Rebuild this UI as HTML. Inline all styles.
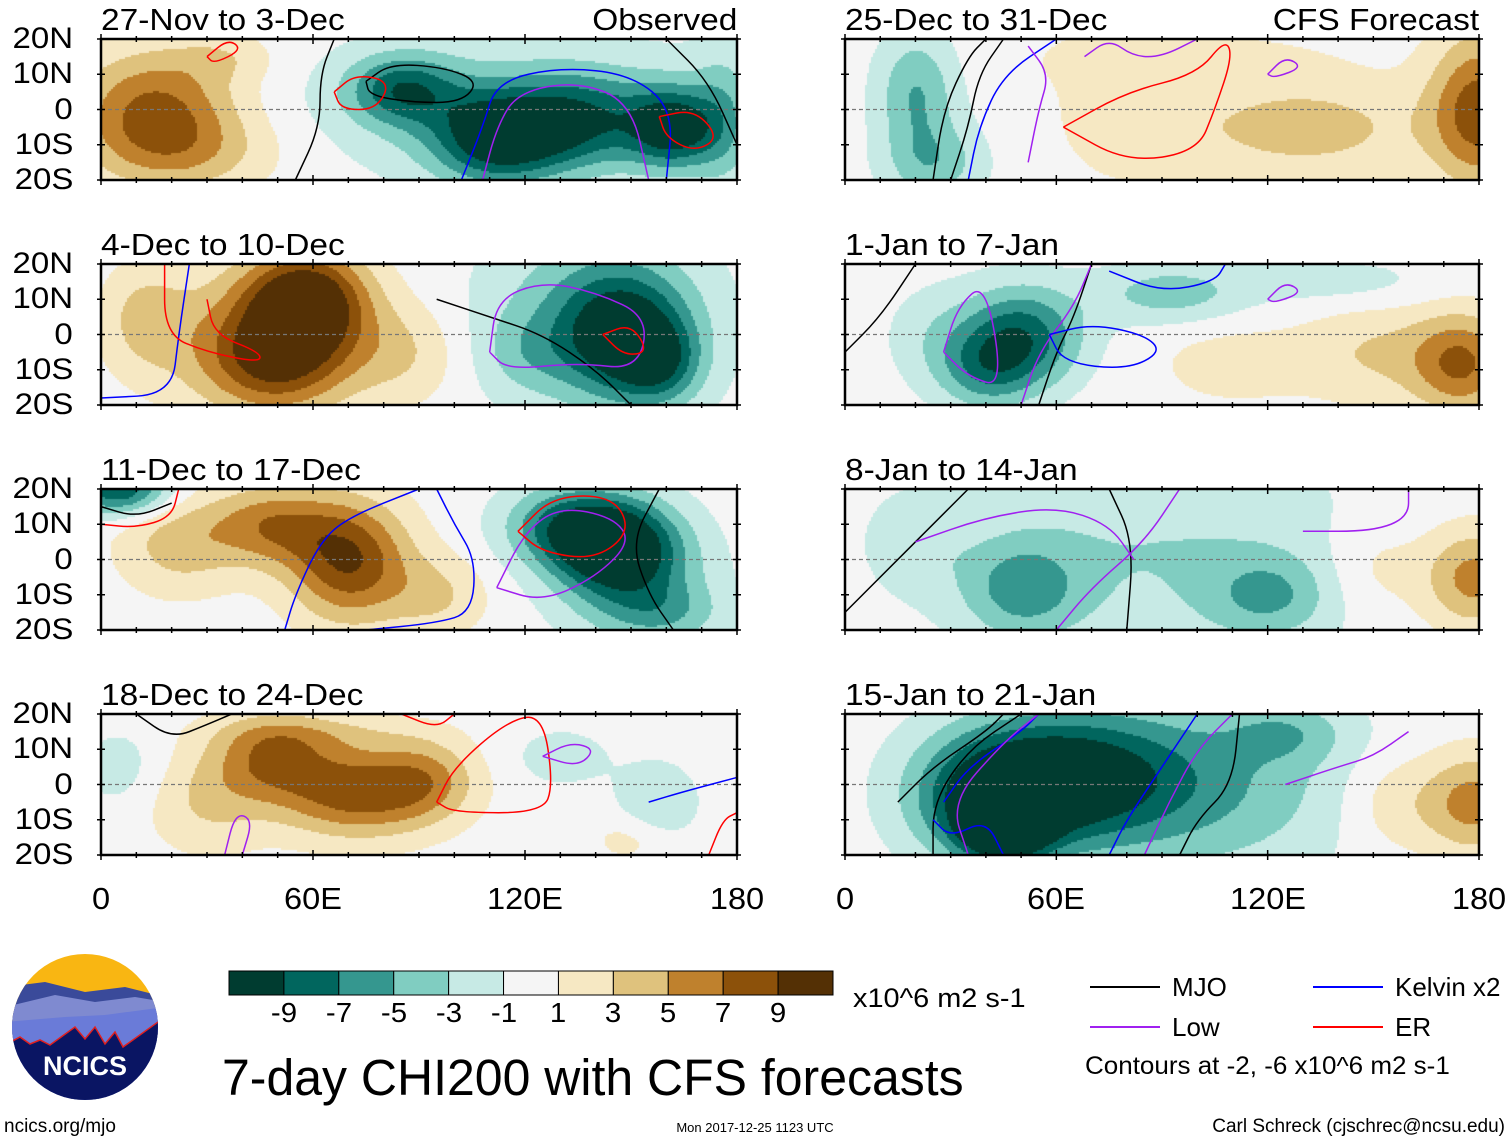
<!DOCTYPE html>
<html><head><meta charset="utf-8">
<style>
body{margin:0;background:#fff;width:1510px;height:1142px;overflow:hidden;position:relative;font-family:"Liberation Sans",sans-serif;}
.t{position:absolute;color:#000;white-space:nowrap;line-height:1;}
canvas{position:absolute;}
svg{position:absolute;left:0;top:0;}
</style></head><body>
<div id="root"></div>
<svg id="ov" width="1510" height="1142"></svg>
<script>
// color scale (BrBG), level boundaries
const levels=[-9,-7,-5,-3,-1,1,3,5,7,9];
const colors=['#003c30','#01665e','#35978f','#80cdc1','#c7eae5','#f5f5f5','#f6e8c3','#dfc27d','#bf812d','#8c510a','#543005'];
const panelTitles=['27-Nov to 3-Dec','4-Dec to 10-Dec','11-Dec to 17-Dec','18-Dec to 24-Dec','25-Dec to 31-Dec','1-Jan to 7-Jan','8-Jan to 14-Jan','15-Jan to 21-Jan'];
const latTicks=['20N','10N','0','10S','20S'];
const lonTicks=['0','60E','120E','180'];
// anomaly blobs per panel: [lon, lat, amplitude, sigmaLon, sigmaLat]
const blobs0=[[15,0,7.5,16,12],[25,-12,3,18,8],[35,15,2,10,5],[85,6,-7,11,7],[112,-8,-9,13,9],[135,-3,-6,14,9],[162,-5,-9,9,8],[120,0,-3.5,40,14],[176,-2,-3,6,15]];
const blobs1=[[58,10,11,12,10],[50,-8,7,14,10],[40,0,4,20,14],[12,5,3,8,10],[85,-5,3,12,10],[148,0,-8,12,12],[140,5,-5,22,18],[158,-8,-5,8,8],[120,-5,-2,10,8]];
const blobs2=[[70,0,9,12,12],[48,10,6,12,8],[22,5,4,12,10],[95,-10,3,10,8],[5,20,-9,10,5],[145,5,-10,12,9],[130,10,-6,12,8],[150,-5,-5,15,12],[160,-15,-3,12,6]];
const blobs3=[[72,-2,8,16,9],[48,8,6,12,8],[92,2,4,10,8],[30,-5,3,12,10],[60,15,2,20,4],[130,8,-2,10,6],[157,-5,-3,8,8],[5,5,-2,8,8],[150,-15,2,8,5]];
const blobs4=[[180,0,8,10,15],[130,-5,4,25,10],[80,0,2,15,15],[20,5,-5,8,12],[25,-15,-4,10,8],[95,15,1.5,30,6]];
const blobs5=[[50,0,-8,12,10],[40,-10,-5,10,8],[92,12,-4,15,6],[140,15,-2,20,5],[175,-8,7,10,10],[150,-5,3,15,10],[110,-8,2,15,8],[25,0,-2,10,10]];
const blobs6=[[50,-8,-5,12,10],[90,2,-3,40,22],[120,-10,-4,12,8],[20,5,-2,10,10],[178,-5,6,10,10],[150,-2,2,10,10]];
const blobs7=[[60,2,-10,22,13],[45,-12,-11,8,6],[40,-5,-7,15,12],[100,0,-5,30,18],[125,15,-3,12,6],[178,-5,6,10,10],[155,-5,2.5,10,10]];
const allBlobs=[blobs0,blobs1,blobs2,blobs3,blobs4,blobs5,blobs6,blobs7];
// contour lines per panel: [color, [[lon,lat],...]]
const lines0=[['#000',[[55,-20],[62,-5],[62,10],[66,20]]],['#000',[[75,8],[82,13],[97,12],[107,8],[102,2],[88,2],[76,4],[75,8]]],['#000',[[160,20],[172,8],[180,-10]]],['#00f',[[102,-20],[108,-5],[112,8],[130,12],[150,10],[162,0],[160,-20]]],['#a020f0',[[108,-20],[112,-5],[118,5],[135,8],[150,2],[155,-20]]],['#f00',[[66,5],[72,10],[82,8],[78,0],[68,0],[66,5]]],['#f00',[[158,-2],[168,0],[175,-8],[168,-12],[160,-8],[158,-2]]],['#f00',[[30,15],[36,20],[40,17],[32,13],[30,15]]]];
const lines1=[['#00f',[[0,-18],[20,-17],[22,0],[25,20]]],['#f00',[[18,20],[18,0],[30,-5],[45,-8],[45,-5],[32,0],[30,10]]],['#000',[[95,10],[110,5],[125,0],[140,-10],[150,-20]]],['#a020f0',[[110,-5],[112,10],[125,15],[140,12],[155,5],[152,-10],[135,-8],[115,-10],[110,-5]]],['#f00',[[142,0],[150,3],[155,-5],[148,-6],[142,0]]]];
const lines2=[['#f00',[[0,10],[10,9],[20,12],[22,20]]],['#000',[[0,15],[10,12],[20,16]]],['#00f',[[52,-20],[55,-10],[62,5],[70,12],[90,20]]],['#00f',[[75,-20],[95,-18],[105,-15],[106,0],[100,10],[95,20]]],['#a020f0',[[112,-8],[120,8],[130,15],[145,12],[150,5],[140,-5],[125,-12],[112,-8]]],['#f00',[[118,8],[128,18],[145,18],[150,8],[140,0],[125,2],[118,8]]],['#000',[[158,20],[150,5],[155,-10],[162,-20]]]];
const lines3=[['#000',[[10,20],[20,13],[30,17],[37,20]]],['#f00',[[85,20],[95,16],[100,20]]],['#f00',[[95,-5],[100,5],[115,18],[125,20],[128,0],[125,-8],[100,-8],[95,-5]]],['#a020f0',[[125,8],[133,12],[140,10],[135,5],[125,8]]],['#a020f0',[[35,-20],[38,-8],[43,-10],[40,-20]]],['#00f',[[155,-5],[165,-2],[180,2]]],['#f00',[[172,-20],[176,-10],[180,-8]]]];
const lines4=[['#000',[[25,-20],[28,0],[35,15],[40,20]]],['#000',[[30,-20],[35,-5],[38,10],[45,20]]],['#00f',[[35,-20],[38,-5],[45,10],[60,20]]],['#a020f0',[[52,-15],[55,0],[58,10],[52,18]]],['#f00',[[62,-5],[80,-15],[100,-12],[105,0],[110,15],[108,20],[100,10],[80,5],[62,-5]]],['#a020f0',[[68,15],[75,20],[82,15],[90,15],[100,20]]],['#a020f0',[[120,10],[125,15],[130,12],[122,9],[120,10]]]];
const lines5=[['#000',[[0,-5],[10,5],[20,20]]],['#000',[[55,-20],[60,-5],[65,5],[70,20]]],['#a020f0',[[50,-20],[55,-5],[65,8],[70,20]]],['#00f',[[58,0],[70,3],[85,0],[90,-5],[80,-10],[62,-8],[58,0]]],['#a020f0',[[28,-5],[32,8],[40,15],[45,-15],[35,-12],[28,-5]]],['#00f',[[75,18],[90,12],[105,15],[108,20]]],['#a020f0',[[120,10],[125,15],[130,12],[122,9],[120,10]]]];
const lines6=[['#000',[[0,-15],[10,-5],[25,10],[35,20]]],['#000',[[75,20],[82,5],[80,-20]]],['#a020f0',[[20,5],[40,12],[60,15],[75,10],[82,0]]],['#a020f0',[[60,-20],[70,-8],[85,5],[95,20]]],['#a020f0',[[130,8],[150,8],[160,12],[160,20]]]];
const lines7=[['#000',[[15,-5],[25,5],[40,15],[45,20]]],['#000',[[25,-20],[25,-5],[35,10],[50,20]]],['#00f',[[28,-5],[35,5],[50,15],[55,20]]],['#00f',[[25,-10],[30,-15],[40,-10],[45,-20]]],['#a020f0',[[35,-20],[30,-5],[45,12],[55,20]]],['#00f',[[75,-20],[80,-10],[90,5],[100,20]]],['#a020f0',[[85,-20],[92,-5],[100,10],[110,20]]],['#000',[[95,-20],[100,-10],[110,0],[112,20]]],['#a020f0',[[125,0],[140,5],[150,8],[160,15]]]];
const allLines=[lines0,lines1,lines2,lines3,lines4,lines5,lines6,lines7];

const PX=[101,845], PW=[636,634], PY=[39,264,489,714], PH=141;
const root=document.getElementById('root'), ov=document.getElementById('ov');
const NS='http://www.w3.org/2000/svg';
function txt(s,x,y,size,anchor,name,sx){const d=document.createElement('div');d.className='t';d.textContent=s;d.style.fontSize=size+'px';d.style.top=(y-size*0.5)+'px';
 sx=sx||1;
 if(anchor==='r'){d.style.right=(1510-x)+'px';d.style.transformOrigin='right center';d.style.transform='scaleX('+sx+')';}
 else if(anchor==='c'){d.style.left=x+'px';d.style.transform='translateX(-50%) scaleX('+sx+')';}
 else {d.style.left=x+'px';d.style.transformOrigin='left center';d.style.transform='scaleX('+sx+')';}
 
 
 root.appendChild(d);return d;}
function colorFor(v){let i=0;while(i<levels.length&&v>=levels[i])i++;return colors[i];}
for(let p=0;p<8;p++){
 const col=p<4?0:1,row=p%4;const x0=PX[col],w=PW[col],y0=PY[row];
 const xs=lon=>x0+lon/180*w, ys=lat=>y0+(20-lat)/40*PH;
 const cv=document.createElement('canvas');cv.width=w;cv.height=PH;cv.style.left=x0+'px';cv.style.top=y0+'px';
 
 
 root.appendChild(cv);const c=cv.getContext('2d');const B=allBlobs[p];
 for(let py=0;py<PH;py+=2)for(let px=0;px<w;px+=2){const lon=px/w*180,lat=20-py/PH*40;let v=0;
  for(const b of B){const dx=(lon-b[0])/b[3],dy=(lat-b[1])/b[4];v+=b[2]*Math.exp(-0.5*(dx*dx+dy*dy));}
  c.fillStyle=colorFor(v);c.fillRect(px,py,2,2);}
 const eq=document.createElementNS(NS,'line');eq.setAttribute('x1',x0);eq.setAttribute('x2',x0+w);eq.setAttribute('y1',ys(0));eq.setAttribute('y2',ys(0));eq.setAttribute('stroke','#777');eq.setAttribute('stroke-dasharray','4,3');eq.setAttribute('stroke-width','1.2');
 
 
 ov.appendChild(eq);
 for(const L of allLines[p]){const pts=L[1].map(q=>[xs(q[0]),ys(q[1])]);let d='M'+pts[0][0]+','+pts[0][1];
  for(let i=1;i<pts.length;i++){const a=pts[i-1],b=pts[i];const mx=(a[0]+b[0])/2,my=(a[1]+b[1])/2;d+=' Q'+a[0]+','+a[1]+' '+mx+','+my;}
  d+=' L'+pts[pts.length-1][0]+','+pts[pts.length-1][1];
  const pa=document.createElementNS(NS,'path');pa.setAttribute('d',d);pa.setAttribute('fill','none');pa.setAttribute('stroke',L[0]);pa.setAttribute('stroke-width','1.5');
  
  
  ov.appendChild(pa);}
 const r=document.createElementNS(NS,'rect');r.setAttribute('x',x0);r.setAttribute('y',y0);r.setAttribute('width',w);r.setAttribute('height',PH);r.setAttribute('fill','none');r.setAttribute('stroke','#000');r.setAttribute('stroke-width','2.5');
 
 
 ov.appendChild(r);
 for(let lon=0;lon<=180;lon+=10){const big=lon%60===0;for(const yy of [y0,y0+PH]){const t=document.createElementNS(NS,'line');t.setAttribute('x1',xs(lon));t.setAttribute('x2',xs(lon));t.setAttribute('y1',yy-(big?5:3));t.setAttribute('y2',yy+(big?5:3));t.setAttribute('stroke','#000');t.setAttribute('stroke-width','1.5');
  
  
  ov.appendChild(t);}}
 for(let k=0;k<5;k++){for(const xx of [x0,x0+w]){const t=document.createElementNS(NS,'line');t.setAttribute('x1',xx-4);t.setAttribute('x2',xx+4);t.setAttribute('y1',ys(20-k*10));t.setAttribute('y2',ys(20-k*10));t.setAttribute('stroke','#000');t.setAttribute('stroke-width','1.5');
  
  
  ov.appendChild(t);}}
 txt(panelTitles[p],x0,y0-20,31,'l','panel-title',1.08);
 if(col===0)latTicks.forEach((s,k)=>txt(s,73,y0+k*PH/4,30,'r','lat-label',1.1));
 if(row===3)lonTicks.forEach((s,k)=>txt(s,x0+k*w/3,898,31,'c','lon-label',1.05));
}
txt('Observed',737,19,31,'r','observed-label',1.08);
txt('CFS Forecast',1479,19,31,'r','forecast-label',1.08);
const cbx=229,cby=971,cbw=604/11;
colors.forEach((cl,i)=>{const r=document.createElementNS(NS,'rect');r.setAttribute('x',cbx+i*cbw);r.setAttribute('y',cby);r.setAttribute('width',cbw);r.setAttribute('height',24);r.setAttribute('fill',cl);r.setAttribute('stroke','#000');r.setAttribute('stroke-width','1');
 
 
 ov.appendChild(r);});
levels.forEach((v,i)=>txt(String(v),cbx+(i+1)*cbw,1013,28,'c','colorbar-label',1.05));
txt('x10^6 m2 s-1',853,998,27,'l','colorbar-units',1.07);
const leg=[['#000','MJO',1090,987],['#00f','Kelvin x2',1313,987],['#a020f0','Low',1090,1027],['#f00','ER',1313,1027]];
leg.forEach(l=>{const t=document.createElementNS(NS,'line');t.setAttribute('x1',l[2]);t.setAttribute('x2',l[2]+70);t.setAttribute('y1',l[3]);t.setAttribute('y2',l[3]);t.setAttribute('stroke',l[0]);t.setAttribute('stroke-width','2');
 
 
 ov.appendChild(t);txt(l[1],l[2]+82,l[3],26,'l','legend-entry');});
txt('Contours at -2, -6 x10^6 m2 s-1',1085,1066,25,'l','contour-note',1.04);
txt('7-day CHI200 with CFS forecasts',222,1077,51,'l','figure-title',0.98);
txt('ncics.org/mjo',4,1126,19,'l','url-label');
txt('Mon 2017-12-25 1123 UTC',755,1127,13,'c','timestamp');
txt('Carl Schreck (cjschrec@ncsu.edu)',1505,1126,19,'r','author-label');
</script>
<svg width="160" height="160" style="left:5px;top:947px">
<defs><clipPath id="cl"><circle cx="80" cy="80" r="73"/></clipPath></defs>
<g clip-path="url(#cl)">
<rect width="160" height="160" fill="#f9b612"/>
<path d="M0,40 L40,35 L80,45 L120,40 L160,50 L160,160 L0,160Z" fill="#3a4a9a"/>
<path d="M0,60 L50,48 L90,55 L130,50 L160,55 L160,160 L0,160Z" fill="#7f8ad0"/>
<path d="M0,75 L60,70 L100,68 L160,60 L160,160 L0,160Z" fill="#6a7bd8"/>
<path d="M0,98 L15,90 L25,97 L35,93 L45,98 L70,80 L80,92 L90,80 L100,97 L110,85 L118,100 L160,70 L160,160 L0,160Z" fill="#0a1563" stroke="#e02020" stroke-width="1.5"/>
</g>
<text x="80" y="128" text-anchor="middle" font-family="Liberation Sans" font-weight="bold" font-size="27" fill="#fff">NCICS</text>
</svg>
</body></html>
